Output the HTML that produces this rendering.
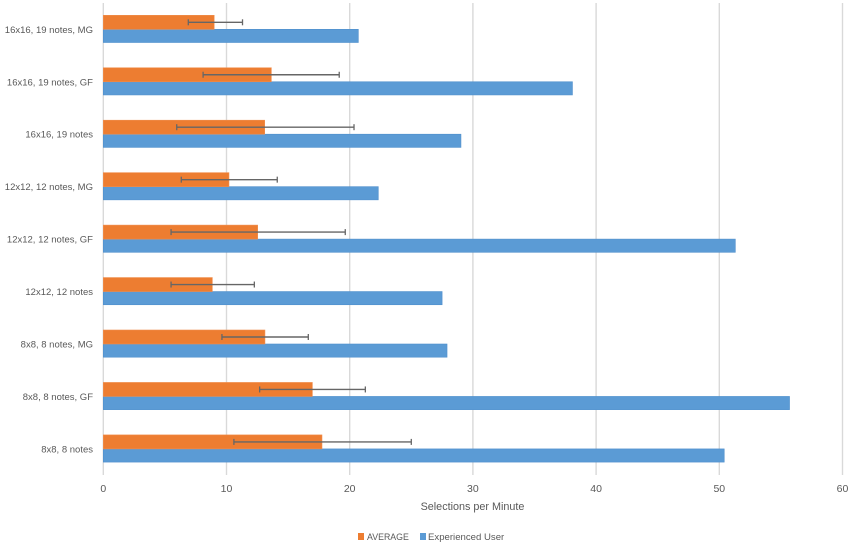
<!DOCTYPE html>
<html>
<head>
<meta charset="utf-8">
<style>
html,body{margin:0;padding:0;background:#fff;}
svg{display:block;}
text{font-family:"Liberation Sans",sans-serif;fill:#595959;}
</style>
</head>
<body>
<svg id="chart" width="851" height="544" viewBox="0 0 851 544" xmlns="http://www.w3.org/2000/svg">
  <g id="grid"></g>
  <g id="bars"></g>
  <g id="errs"></g>
  <g id="cats"></g>
  <g id="ticks"></g>
  <text x="472.5" y="510" text-anchor="middle" font-size="10.8">Selections per Minute</text>
  <g>
    <rect x="358" y="533" width="6" height="7" fill="#ED7D31"></rect>
    <text x="367" y="540" font-size="8.8">AVERAGE</text>
    <rect x="420" y="533" width="6" height="7" fill="#5B9BD5"></rect>
    <text x="428" y="540" font-size="9.6">Experienced User</text>
  </g>
</svg>
<script>
const categories = ["16x16, 19 notes, MG","16x16, 19 notes, GF","16x16, 19 notes","12x12, 12 notes, MG","12x12, 12 notes, GF","12x12, 12 notes","8x8, 8 notes, MG","8x8, 8 notes, GF","8x8, 8 notes"];
const averageValues = [9.0,13.64,13.1,10.2,12.53,8.85,13.12,16.97,17.75];
const experiencedValues = [20.7,38.08,29.03,22.32,51.3,27.5,27.9,55.7,50.4];
const errorLow = [6.9,8.1,5.96,6.33,5.5,5.5,9.63,12.69,10.6];
const errorHigh = [11.3,19.15,20.35,14.12,19.64,12.26,16.64,21.27,25.0];
const tickLabels = [0,10,20,30,40,50,60];

const NS = 'http://www.w3.org/2000/svg';
function xScale(v){ return 103.3 + v * 12.32; }
function bandTop(i){ return 15.3 + i * 52.45; }
function make(parent, tag, attrs){
  const el = document.createElementNS(NS, tag);
  for (const k in attrs) el.setAttribute(k, attrs[k]);
  document.getElementById(parent).appendChild(el);
  return el;
}

tickLabels.forEach(function(t){
  const line = make('grid','line',{x1:xScale(t),x2:xScale(t),y1:3,y2:475,stroke:'#D9D9D9','stroke-width':1.4});
  
  
  const label = make('ticks','text',{x:xScale(t),y:492,'text-anchor':'middle','font-size':10.5});
  label.textContent = t;
  
  
});

categories.forEach(function(c, i){
  const top = bandTop(i);
  const label = make('cats','text',{x:93,y:top+17.5,'text-anchor':'end','font-size':9.5});
  label.textContent = c;
  
  

  const blue = make('bars','rect',{x:xScale(0),y:top+14,width:xScale(experiencedValues[i])-xScale(0),height:13.2,fill:'#5B9BD5',stroke:'#4F8FCC','stroke-width':0.6});
  
  

  const orange = make('bars','rect',{x:xScale(0),y:top,width:xScale(averageValues[i])-xScale(0),height:14,fill:'#ED7D31',stroke:'#F08F4F','stroke-width':0.6});
  
  

  const ey = top + 7;
  const lo = xScale(errorLow[i]), hi = xScale(errorHigh[i]);
  const stem = make('errs','line',{x1:lo,x2:hi,y1:ey,y2:ey,stroke:'#666666','stroke-width':1.4});
  
  
  const capLow = make('errs','line',{x1:lo,x2:lo,y1:ey-3,y2:ey+3,stroke:'#666666','stroke-width':1.3});
  
  
  const capHigh = make('errs','line',{x1:hi,x2:hi,y1:ey-3,y2:ey+3,stroke:'#666666','stroke-width':1.3});
  
  
});
</script>
</body>
</html>
